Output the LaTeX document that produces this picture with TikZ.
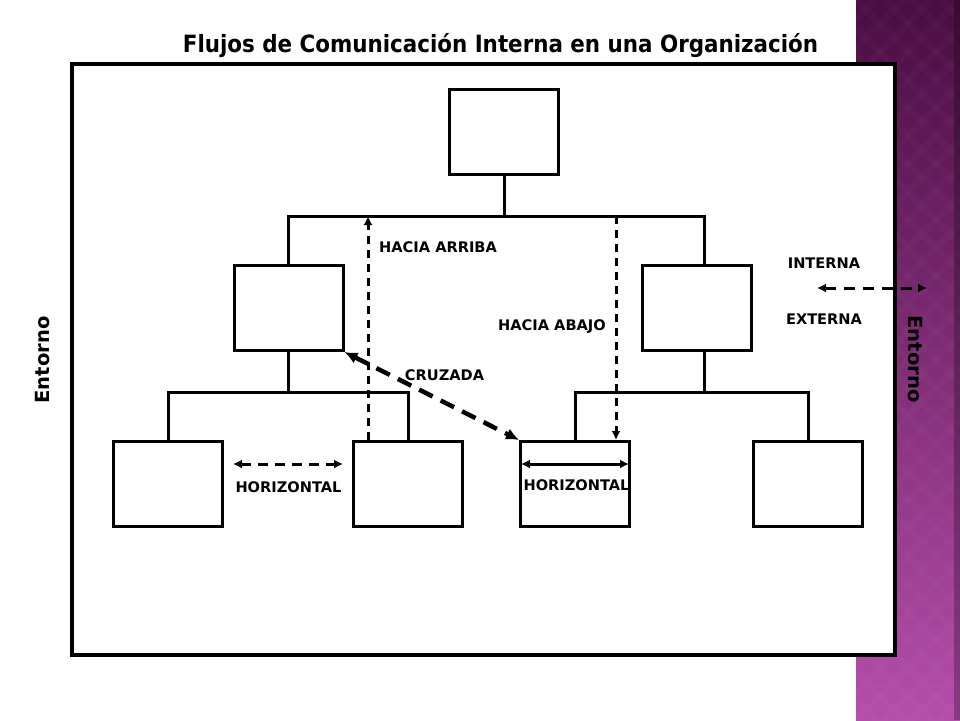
\documentclass[tikz,border=0pt]{standalone}
\usepackage{fontspec}
\setmainfont{DejaVu Sans}
\newfontfamily\condfont{DejaVu Sans Condensed}
\usetikzlibrary{arrows.meta,positioning}
\definecolor{moradoalto}{HTML}{4A0C42}
\definecolor{moradobajo}{HTML}{B54DAB}

\begin{document}
\begin{tikzpicture}[x=1pt,y=-1pt,>={Latex[length=9pt,width=9pt]},line join=miter,
  puesto/.style={draw,line width=3pt,minimum width=109pt,minimum height=85pt,inner sep=0pt},
  linea/.style={line width=3pt},
  flujo/.style={line width=3pt,dash pattern=on 8pt off 6pt},
  cruce/.style={line width=4.5pt,dash pattern=on 15pt off 9pt,{Latex[length=13pt,width=12pt]}-{Latex[length=13pt,width=12pt]}},
  etiqueta/.style={font=\bfseries\fontsize{14.6}{17}\selectfont,inner sep=0pt}]
\useasboundingbox (0,0) rectangle (960,720);
\fill[white] (0,0) rectangle (960,720);
% franja lateral
\shade[top color=moradoalto,bottom color=moradobajo] (856,0) rectangle (960,720);
\begin{scope}
\clip (856,0) rectangle (960,720);
\foreach \k in {-140,-112,...,840} {
  \draw[white,opacity=0.02,line width=7pt] (856,\k) -- ++(130,130);
  \draw[white,opacity=0.02,line width=7pt] (960,\k) -- ++(-130,130);
}
\end{scope}
\fill[black,opacity=0.25] (954,0) rectangle (960,720);
% marco
\draw[line width=4.5pt,fill=white] (72,64) rectangle (895,655);
\node[font=\condfont\bfseries\fontsize{23.8}{27}\selectfont,anchor=base] (titulo) at (500.5,52) {Flujos de Comunicación Interna en una Organización};

\node[puesto] (p0) at (504,131.5) {};
\node[puesto] (p1) at (288.5,308) {};
\node[puesto] (p2) at (696.5,308) {};
\node[puesto] (p3) at (168,484) {};
\node[puesto,right=128pt of p3] (p4) {};
\node[puesto,right=55pt of p4] (p5) {};
\node[puesto,right=121pt of p5] (p6) {};

\coordinate (bd) at (704,216);
\coordinate (bi) at (288.5,392);
\coordinate (bdd) at (704,392);
\draw[linea] (p0.south) -- (p0.south |- bd);
\draw[linea] (p1.north) |- (bd) -- (bd |- p2.north);
\draw[linea] (p1.south) -- (bi);
\draw[linea] (p3.north) |- (bi) -| (p4.north);
\draw[linea] (bd |- p2.south) -- (bdd);
\draw[linea] (p5.north) |- (bdd) -| (p6.north);

\coordinate (arr) at (368,216);
\coordinate (aba) at (616,216);
\coordinate (ie) at (817,288);
\coordinate (ee) at (927,288);
\draw[flujo,->] (p4.north -| arr) -- (arr);
\draw[flujo,->] (aba) -- (p5.north -| aba);
\draw[cruce] (p1.south east) -- (p5.north west);
\draw[flujo,dash pattern=on 10pt off 7pt,<->] ([xshift=9pt,yshift=20pt]p3.east) -- ([xshift=-9pt,yshift=20pt]p4.west);
\draw[linea,<->] ([xshift=2pt,yshift=20pt]p5.west) -- ([xshift=-2pt,yshift=20pt]p5.east);
\draw[flujo,dash pattern=on 11pt off 8pt,<->] (ie) -- (ee);

\node[etiqueta,anchor=west] (larriba) at (379,247) {HACIA ARRIBA};
\node[etiqueta] (labajo) at (552,327) {HACIA ABAJO};
\node[etiqueta] (lcruz) at (444.5,375) {CRUZADA};
\node[etiqueta] (lhor1) at (288.5,487) {HORIZONTAL};
\node[etiqueta] (lhor2) at (576.5,485) {HORIZONTAL};
\node[etiqueta] (lint) at (824,263) {INTERNA};
\node[etiqueta] (lext) at (824,319) {EXTERNA};

\node[rotate=90,font=\bfseries\fontsize{19.5}{22}\selectfont] (entizq) at (43,360) {Entorno};
\node[rotate=-90,font=\bfseries\fontsize{19.5}{22}\selectfont] (entder) at (915,359) {Entorno};
\end{tikzpicture}
\end{document}
